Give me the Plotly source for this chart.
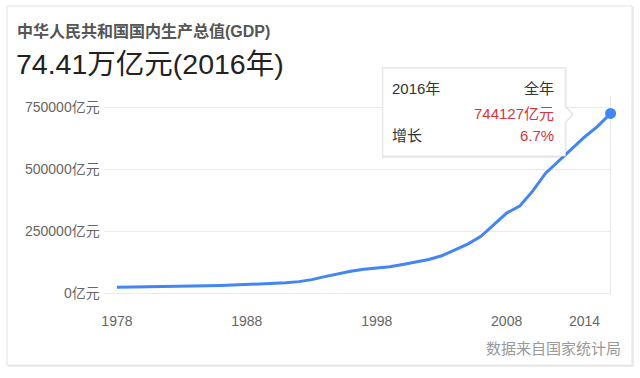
import plotly.graph_objects as go

# ---- data (亿元) ----
years = list(range(1978, 2017))
gdp = [3679, 4100, 4588, 4936, 5373, 6021, 7279, 9099, 10376, 12175,
       15180, 17180, 18873, 22006, 27195, 35673, 48638, 61340, 71814, 79715,
       85196, 90564, 100280, 110863, 121717, 137422, 161840, 187319, 219439, 270232,
       319516, 349081, 413030, 489301, 540367, 595244, 643974, 689052, 744127]
growth_2016 = "6.7%"
x_tick_years = [1978, 1988, 1998, 2008, 2014]
y_tick_values = [0, 250000, 500000, 750000]
y_tick_labels = [f"{v}亿元" for v in y_tick_values]

W, H = 640, 378
def px(x):
    return x / W
def py(y):
    return 1 - y / H

FONT = "Liberation Sans, Arial, Noto Sans CJK SC, sans-serif"
BLUE = "#4285f4"
RED = "#d8343a"

fig = go.Figure()
fig.add_trace(go.Scatter(x=years, y=gdp, yaxis="y2", mode="lines",
                         line=dict(color=BLUE, width=3), hoverinfo="skip",
                         showlegend=False))
fig.add_trace(go.Scatter(x=[years[-1]], y=[gdp[-1]], yaxis="y2", mode="markers",
                         marker=dict(color=BLUE, size=11), cliponaxis=False,
                         hoverinfo="skip", showlegend=False))

shapes = []
# card shadow + card
shapes.append(dict(type="rect", xref="paper", yref="paper",
                   x0=px(6), x1=px(634), y0=py(372), y1=py(7),
                   line=dict(width=0), fillcolor="#ececec", layer="below"))
shapes.append(dict(type="rect", xref="paper", yref="paper",
                   x0=px(5), x1=px(632), y0=py(370), y1=py(6),
                   line=dict(color="#e2e2e2", width=1), fillcolor="white", layer="below"))
# crosshair line at last point
shapes.append(dict(type="line", xref="x", yref="y",
                   x0=years[-1], x1=years[-1], y0=0, y1=797000,
                   line=dict(color="#e6e6e6", width=1), layer="below"))

def box_path(l, t, r, b, ay, tipx):
    pts = [(l, t), (r, t), (r, ay - 8), (tipx, ay), (r, ay + 8), (r, b), (l, b)]
    d = "M " + " L ".join(f"{px(x):.5f},{py(y):.5f}" for x, y in pts) + " Z"
    return d

shapes.append(dict(type="path", xref="paper", yref="paper",
                   path=box_path(381, 68, 566.5, 160, 116, 574),
                   line=dict(width=0), fillcolor="rgba(0,0,0,0.08)", layer="above"))
shapes.append(dict(type="path", xref="paper", yref="paper",
                   path=box_path(382, 69, 565, 158, 116, 572),
                   line=dict(color="#e4e4e4", width=1), fillcolor="white", layer="above"))

ann = []
def text(x, y, s, size, color, anchor="left", bold=False):
    ann.append(dict(x=px(x), y=py(y), xref="paper", yref="paper", text=(f"<b>{s}</b>" if bold else s),
                    showarrow=False, xanchor=anchor, yanchor="middle",
                    font=dict(family=FONT, size=size, color=color)))

text(13, 31, "中华人民共和国国内生产总值(GDP)", 16, "#555555", bold=True)
text(12, 65, f"{gdp[-1]/10000:.2f}万亿元({years[-1]}年)", 28.5, "#222222")
text(389, 90, f"{years[-1]}年", 15, "#333333")
text(556, 90, "全年", 15, "#333333", anchor="right")
text(556, 115, f"{gdp[-1]}亿元", 15, RED, anchor="right")
text(389, 137, "增长", 15, "#333333")
text(556, 137, growth_2016, 15, RED, anchor="right")
text(623, 353, "数据来自国家统计局", 15, "#999999", anchor="right")

fig.update_layout(
    width=W, height=H, margin=dict(l=0, r=0, t=0, b=0),
    paper_bgcolor="white", plot_bgcolor="rgba(0,0,0,0)",
    font=dict(family=FONT),
    xaxis=dict(domain=[px(102), px(611)], range=[1976.98, 2016.04],
               tickvals=x_tick_years, ticktext=[str(y) for y in x_tick_years],
               showgrid=False, zeroline=False, showline=False, ticks="",
               ticklabelstandoff=15,
               tickfont=dict(size=14, color="#666666", family=FONT), anchor="y"),
    yaxis=dict(domain=[py(300), py(95)], range=[-11968, 805800],
               tickvals=y_tick_values, ticktext=y_tick_labels,
               showgrid=True, gridcolor="#ebebeb", gridwidth=1,
               zeroline=False, showline=False, ticks="", ticklabelstandoff=3,
               tickfont=dict(size=14, color="#666666", family=FONT)),
    yaxis2=dict(overlaying="y", range=[-34200, 828270], visible=False),
    shapes=shapes, annotations=ann,
)

fig.write_html("out.html", config={"displayModeBar": False},
               post_script="document.body.style.margin='0';document.body.style.overflow='hidden';")
